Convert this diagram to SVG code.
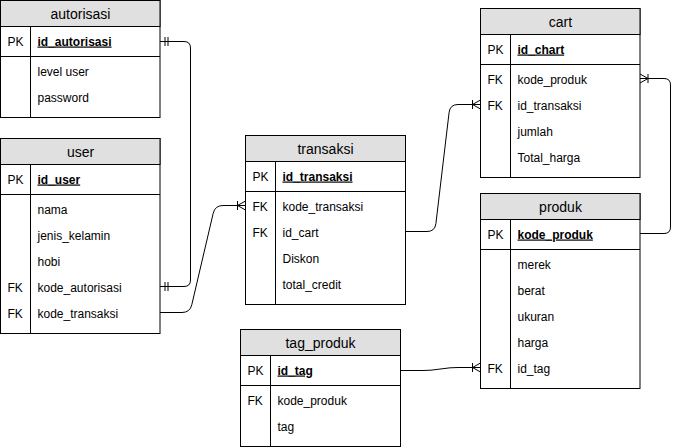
<svg xmlns="http://www.w3.org/2000/svg" width="679" height="448" viewBox="0 0 679 448">
<style>
.box{fill:#fff;stroke:#000;stroke-width:1}
.hd{fill:#e0e0e0;stroke:#000;stroke-width:1}
.ln{stroke:#000;stroke-width:1;fill:none}
.t{font-family:"Liberation Sans",Arial,sans-serif;font-size:12px;fill:#000}
.h{font-family:"Liberation Sans",Arial,sans-serif;font-size:14px;fill:#000;text-anchor:middle}
.pk{font-weight:bold;text-decoration:underline}
.edge{stroke:#000;stroke-width:1;fill:none}
</style>
<defs>
<marker id="one" markerUnits="userSpaceOnUse" orient="auto-start-reverse" refX="0" refY="0" markerWidth="20" markerHeight="20" overflow="visible">
<path d="M-5,-4.5V4.5M-8,-4.5V4.5" stroke="#000" stroke-width="1" fill="none"/>
</marker>
<marker id="many" markerUnits="userSpaceOnUse" orient="auto-start-reverse" refX="0" refY="0" markerWidth="20" markerHeight="20" overflow="visible">
<path d="M-8,-4.5V4.5M0,-4.5L-8,0L0,4.5" stroke="#000" stroke-width="1" fill="none"/>
</marker>
</defs>

<g id="autorisasi" transform="translate(0.5,0.5)">
<rect class="box" x="0" y="0" width="159.5" height="117"/>
<rect class="hd" x="0" y="0" width="159.5" height="26"/>
<path class="ln" d="M0,56H159.5M30,26V117"/>
<text class="h" x="80" y="18">autorisasi</text>
<text class="t" x="7" y="45">PK</text>
<text class="t pk" x="37" y="45">id_autorisasi</text>
<text class="t" x="37" y="75">level user</text>
<text class="t" x="37" y="101">password</text>
</g>

<g id="user" transform="translate(0.5,138.5)">
<rect class="box" x="0" y="0" width="159.5" height="195"/>
<rect class="hd" x="0" y="0" width="159.5" height="26"/>
<path class="ln" d="M0,56H159.5M30,26V195"/>
<text class="h" x="80" y="18">user</text>
<text class="t" x="7" y="45">PK</text>
<text class="t pk" x="37" y="45">id_user</text>
<text class="t" x="37" y="75">nama</text>
<text class="t" x="37" y="101">jenis_kelamin</text>
<text class="t" x="37" y="127">hobi</text>
<text class="t" x="7" y="153">FK</text>
<text class="t" x="37" y="153">kode_autorisasi</text>
<text class="t" x="7" y="179">FK</text>
<text class="t" x="37" y="179">kode_transaksi</text>
</g>

<g id="transaksi" transform="translate(245.5,135.5)">
<rect class="box" x="0" y="0" width="160" height="169"/>
<rect class="hd" x="0" y="0" width="160" height="26"/>
<path class="ln" d="M0,56H160M30,26V169"/>
<text class="h" x="80" y="18">transaksi</text>
<text class="t" x="7" y="45">PK</text>
<text class="t pk" x="37" y="45">id_transaksi</text>
<text class="t" x="7" y="75">FK</text>
<text class="t" x="37" y="75">kode_transaksi</text>
<text class="t" x="7" y="101">FK</text>
<text class="t" x="37" y="101">id_cart</text>
<text class="t" x="37" y="127">Diskon</text>
<text class="t" x="37" y="153">total_credit</text>
</g>

<g id="cart" transform="translate(480.5,8.5)">
<rect class="box" x="0" y="0" width="159.5" height="169"/>
<rect class="hd" x="0" y="0" width="159.5" height="26"/>
<path class="ln" d="M0,56H159.5M30,26V169"/>
<text class="h" x="80" y="18">cart</text>
<text class="t" x="7" y="45">PK</text>
<text class="t pk" x="37" y="45">id_chart</text>
<text class="t" x="7" y="75">FK</text>
<text class="t" x="37" y="75">kode_produk</text>
<text class="t" x="7" y="101">FK</text>
<text class="t" x="37" y="101">id_transaksi</text>
<text class="t" x="37" y="127">jumlah</text>
<text class="t" x="37" y="153">Total_harga</text>
</g>

<g id="produk" transform="translate(480.5,193.5)">
<rect class="box" x="0" y="0" width="159.5" height="195"/>
<rect class="hd" x="0" y="0" width="159.5" height="26"/>
<path class="ln" d="M0,56H159.5M30,26V195"/>
<text class="h" x="80" y="18">produk</text>
<text class="t" x="7" y="45">PK</text>
<text class="t pk" x="37" y="45">kode_produk</text>
<text class="t" x="37" y="75">merek</text>
<text class="t" x="37" y="101">berat</text>
<text class="t" x="37" y="127">ukuran</text>
<text class="t" x="37" y="153">harga</text>
<text class="t" x="7" y="179">FK</text>
<text class="t" x="37" y="179">id_tag</text>
</g>

<g id="tag_produk" transform="translate(240.5,329.5)">
<rect class="box" x="0" y="0" width="160" height="117"/>
<rect class="hd" x="0" y="0" width="160" height="26"/>
<path class="ln" d="M0,56H160M30,26V117"/>
<text class="h" x="80" y="18">tag_produk</text>
<text class="t" x="7" y="45">PK</text>
<text class="t pk" x="37" y="45">id_tag</text>
<text class="t" x="7" y="75">FK</text>
<text class="t" x="37" y="75">kode_produk</text>
<text class="t" x="37" y="101">tag</text>
</g>

<g id="connectors">
<path class="edge" marker-start="url(#one)" marker-end="url(#one)" d="M160,41.5H184Q190.5,41.5 190.5,48V280Q190.5,286.5 184,286.5H160"/>
<path class="edge" marker-end="url(#many)" d="M160,312.5H182Q190,312.5 191.8,304.7L213.2,213.3Q215,205.5 223,205.5H245.5"/>
<path class="edge" marker-end="url(#many)" d="M405.5,231.5H427Q435,231.5 435.9,223.6L449.1,112.4Q450,104.5 458,104.5H480.5"/>
<path class="edge" marker-end="url(#many)" d="M640,233.5H664Q670.5,233.5 670.5,227V85Q670.5,78.5 664,78.5H640"/>
<path class="edge" marker-end="url(#many)" d="M401,370.5H423Q431,370.5 438.9,369.2L442.1,368.8Q450,367.5 458,367.5H480.5"/>
</g>
</svg>
